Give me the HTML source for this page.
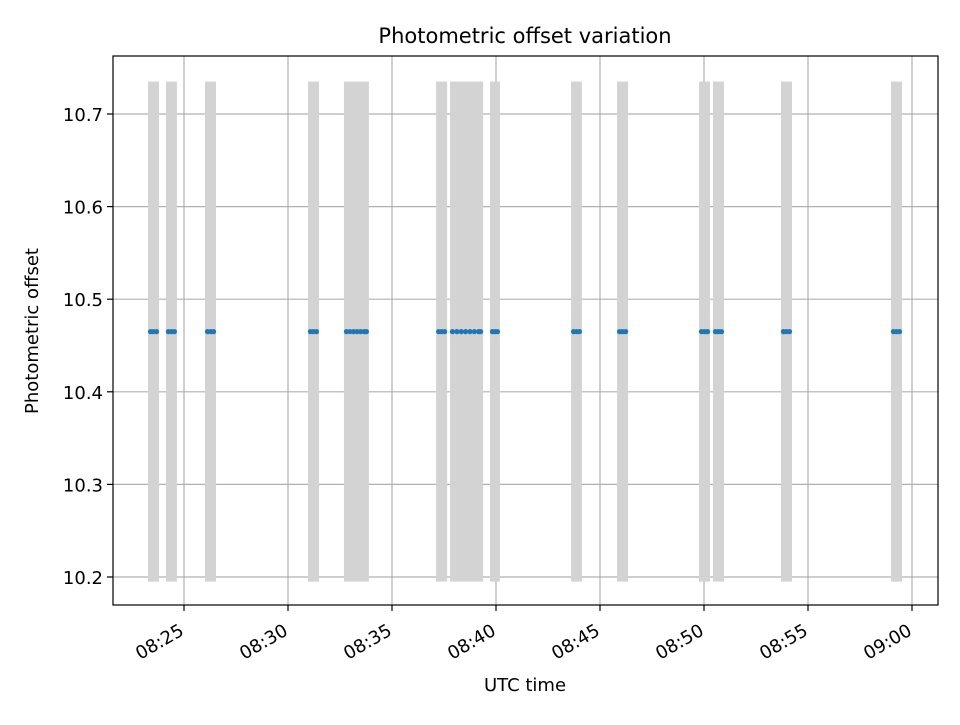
<!DOCTYPE html>
<html><head><meta charset="utf-8"><style>body{margin:0;background:#fff}svg{font-family:"DejaVu Sans","Liberation Sans",sans-serif}</style></head>
<body>
<svg id="c" width="960" height="720"></svg>
<script>
const barStarts=[23.27,24.13,26.01,30.96,32.69,37.12,37.79,39.71,43.61,45.82,49.76,50.43,53.70,58.99];
const barEnds=[23.80,24.66,26.54,31.49,33.89,37.65,39.38,40.19,44.13,46.35,50.29,50.96,54.23,59.52];
const barLow=10.195, barHigh=10.735;
const pointTimes=[23.39,23.53,23.68,24.25,24.40,24.54,26.13,26.28,26.42,31.08,31.22,31.37,
32.81,32.98,33.15,33.32,33.49,33.66,33.77,37.24,37.38,37.53,37.91,38.12,38.33,38.54,38.75,38.96,39.17,39.26,
39.83,39.95,40.07,43.73,43.87,44.01,45.94,46.08,46.23,49.88,50.02,50.17,50.55,50.69,50.84,53.82,53.96,54.11,59.11,59.25,59.40];
const pointValues=pointTimes.map(()=>10.465);
const xTicks=[25,30,35,40,45,50,55,60];
const xTickLabels=["08:25","08:30","08:35","08:40","08:45","08:50","08:55","09:00"];
const yTicks=[10.2,10.3,10.4,10.5,10.6,10.7];
const L=113,R=938,T=56,B=605;
const x=t=>184+(t-25)*20.8;
const y=v=>577-(v-10.2)*926;
const svg=document.getElementById('c');const NS='http://www.w3.org/2000/svg';
function mk(tag,a,p){const e=document.createElementNS(NS,tag);for(const k in a)e.setAttribute(k,a[k]);(p||svg).appendChild(e);return e;}
const g=mk('g',{});


xTicks.forEach(t=>{const l=mk('line',{x1:x(t),x2:x(t),y1:T,y2:B,stroke:'#b0b0b0','stroke-width':1.2},g);

});
yTicks.forEach(v=>{const l=mk('line',{x1:L,x2:R,y1:y(v),y2:y(v),stroke:'#b0b0b0','stroke-width':1.2},g);

});
barStarts.forEach((s,i)=>{const r=mk('rect',{x:x(s),y:y(barHigh),width:x(barEnds[i])-x(s),height:y(barLow)-y(barHigh),fill:'#d3d3d3'},g);

});
pointTimes.forEach((t,i)=>{const c=mk('circle',{cx:x(t),cy:y(pointValues[i]),r:2.6,fill:'#1f77b4'},g);

});
const fr=mk('rect',{x:L,y:T,width:R-L,height:B-T,fill:'none',stroke:'#000','stroke-width':1.2});


xTicks.forEach((t,i)=>{mk('line',{x1:x(t),x2:x(t),y1:B,y2:B+6,stroke:'#000','stroke-width':1.2});
const ax=x(t)+1, ay=B+29;
const tx=mk('text',{x:ax,y:ay,'font-size':18,'text-anchor':'end',transform:`rotate(-30 ${ax} ${ay})`});
tx.textContent=xTickLabels[i];

});
yTicks.forEach(v=>{mk('line',{x1:L-6,x2:L,y1:y(v),y2:y(v),stroke:'#000','stroke-width':1.2});
const tx=mk('text',{x:L-10,y:y(v)+7,'font-size':18,'text-anchor':'end'});
tx.textContent=v.toFixed(1);

});
const tt=mk('text',{x:525,y:43,'font-size':21,'text-anchor':'middle'});tt.textContent='Photometric offset variation';


const xt=mk('text',{x:525,y:691,'font-size':18,'text-anchor':'middle'});xt.textContent='UTC time';


const yt=mk('text',{x:38,y:331,'font-size':18,'text-anchor':'middle',transform:'rotate(-90 38 331)'});yt.textContent='Photometric offset';


</script>
</body></html>
